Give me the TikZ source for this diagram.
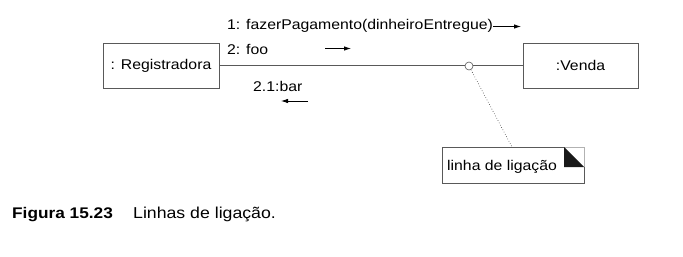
\documentclass[tikz,border=0pt]{standalone}
\usepackage{fontspec}
\setmainfont[FakeStretch=1.12]{Liberation Sans}
\usetikzlibrary{arrows.meta}
\begin{document}
\begin{tikzpicture}[x=1pt,y=-1pt,
  line/.style={draw=black!65,line width=0.8pt},
  lblfont/.style={font=\fontsize{14.1}{16}\selectfont},
  objbox/.style={line,lblfont,minimum width=116pt,minimum height=45pt,inner sep=0pt},
  lbl/.style={lblfont,anchor=base west,inner sep=0pt},
  msg/.style={line width=0.8pt,-{Latex[length=7pt,width=4.5pt]}}]
\useasboundingbox (0,0) rectangle (683,257);

% objects
\node[objbox] (reg) at (161,65.5) {: Registradora};
\node[objbox,minimum width=115pt] (venda) at (580.5,65.5) {:Venda};

% link with its link marker
\draw[line] (reg.east) -- (venda.west);
\node[circle,draw=black!65,fill=white,line width=0.6pt,minimum size=8pt,inner sep=0pt] (knot) at (469,66) {};

% note
\coordinate (nTL) at (442,147);
\coordinate (nBR) at (584,183);
\draw[line] (564,147) -- (nTL) |- (nBR) -- (584,167);
\draw[black!30,line width=0.6pt] (564,147) -- (584,147) -- (584,167);
\fill[black!90] (564,147) -- (564,167) -- (584,167) -- cycle;
\node[lbl] (notetext) at (447,170) {linha de ligação};
\coordinate (nAnchor) at (512,147);
\draw[black!80,line width=0.6pt,dotted] (knot) -- (nAnchor);

% messages
\node[lbl] (m1) at (227,29.5) {1: fazerPagamento(dinheiroEntregue)};
\coordinate (a1s) at (493,26.5);
\coordinate (a1e) at (521,26.5);
\draw[msg] (a1s) -- (a1e);

\node[lbl] (m2) at (227,54) {2: foo};
\coordinate (a2s) at (325,48.5);
\coordinate (a2e) at (351,48.5);
\draw[msg] (a2s) -- (a2e);

\node[lbl] (m3) at (253,91) {2.1:bar};
\coordinate (a3s) at (308,101);
\coordinate (a3e) at (281,101);
\draw[msg] (a3s) -- (a3e);

% caption
\node[lbl,font=\fontsize{15.4}{17}\selectfont\bfseries] (capnum) at (12,218) {Figura 15.23};
\node[lbl,font=\fontsize{15.8}{17}\selectfont] (captext) at (133,218) {Linhas de ligação.};
\end{tikzpicture}
\end{document}
